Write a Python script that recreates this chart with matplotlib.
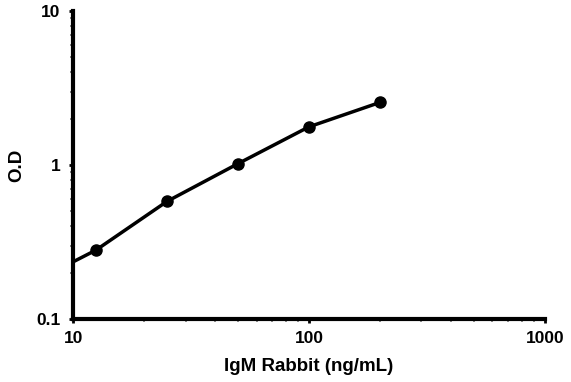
import matplotlib
matplotlib.use("Agg")
from matplotlib import pyplot as plt
from matplotlib.ticker import LogLocator, NullFormatter, FixedLocator, FixedFormatter

# standard curve data
konc = [12.5, 25, 50, 100, 200]
od = [0.28, 0.58, 1.02, 1.77, 2.55]
# fitted line starts at the left axis edge
line_x = [10, 12.5, 25, 50, 100, 200]
line_y = [0.235, 0.28, 0.58, 1.02, 1.77, 2.55]

x_ticks = [10, 100, 1000]
x_labels = ["10", "100", "1000"]
y_ticks = [0.1, 1, 10]
y_labels = ["0.1", "1", "10"]

plt.rcParams['font.family'] = ['Liberation Sans', 'DejaVu Sans']
plt.rcParams['font.weight'] = 'bold'

fig = plt.figure(figsize=(5.71, 3.82), dpi=100)
ax = fig.add_axes([0.128, 0.165, 0.826, 0.806])

ax.plot(line_x, line_y, color='black', linewidth=2.5, zorder=2)
ax.plot(konc, od, 'o', color='black', markersize=8, zorder=3)

ax.set_xscale('log')
ax.set_yscale('log')
ax.set_xlim(10, 1000)
ax.set_ylim(0.1, 10)

ax.xaxis.set_major_locator(FixedLocator(x_ticks))
ax.xaxis.set_major_formatter(FixedFormatter(x_labels))
ax.yaxis.set_major_locator(FixedLocator(y_ticks))
ax.yaxis.set_major_formatter(FixedFormatter(y_labels))
ax.xaxis.set_minor_locator(LogLocator(base=10, subs=range(2, 10)))
ax.yaxis.set_minor_locator(LogLocator(base=10, subs=range(2, 10)))
ax.xaxis.set_minor_formatter(NullFormatter())
ax.yaxis.set_minor_formatter(NullFormatter())

for s in ['top', 'right']:
    ax.spines[s].set_visible(False)
for s in ['left', 'bottom']:
    ax.spines[s].set_linewidth(3)

ax.tick_params(which='major', direction='out', length=3, width=2, labelsize=12.5, pad=6)
ax.tick_params(which='minor', direction='out', length=2, width=1.2, color='#777777')

ax.set_xlabel("IgM Rabbit (ng/mL)", fontsize=13.5, fontweight='bold', labelpad=8)
ax.set_ylabel("O.D", fontsize=13.5, fontweight='bold', labelpad=8)

fig.savefig("out.png", dpi=100)
